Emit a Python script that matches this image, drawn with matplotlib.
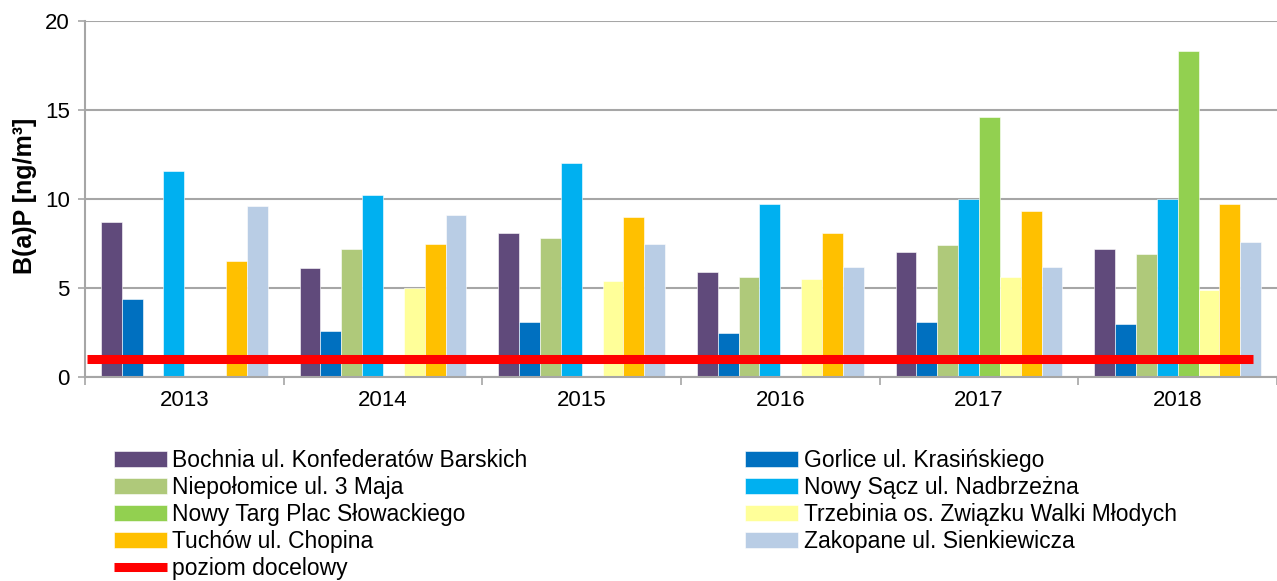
import numpy as np
import matplotlib
matplotlib.use("Agg")
import matplotlib.pyplot as plt

plt.rcParams['font.family'] = ['Liberation Sans', 'DejaVu Sans']

# dane
lata = ['2013', '2014', '2015', '2016', '2017', '2018']
stacje = ['Bochnia ul. Konfederatów Barskich', 'Gorlice ul. Krasińskiego',
          'Niepołomice ul. 3 Maja', 'Nowy Sącz ul. Nadbrzeżna',
          'Nowy Targ Plac Słowackiego', 'Trzebinia os. Związku Walki Młodych',
          'Tuchów ul. Chopina', 'Zakopane ul. Sienkiewicza']
bochnia = [8.7, 6.1, 8.1, 5.9, 7.0, 7.2]
gorlice = [4.4, 2.6, 3.1, 2.5, 3.1, 3.0]
niepolomice = [np.nan, 7.2, 7.8, 5.6, 7.4, 6.9]
nowy_sacz = [11.6, 10.2, 12.0, 9.7, 10.0, 10.0]
nowy_targ = [np.nan, np.nan, np.nan, np.nan, 14.6, 18.3]
trzebinia = [np.nan, 5.0, 5.4, 5.5, 5.6, 4.9]
tuchow = [6.5, 7.5, 9.0, 8.1, 9.3, 9.7]
zakopane = [9.6, 9.1, 7.5, 6.2, 6.2, 7.6]
poziom_docelowy = 1

serie = [bochnia, gorlice, niepolomice, nowy_sacz, nowy_targ, trzebinia, tuchow, zakopane]
kolory = ['#604A7B', '#0070C0', '#AFC97A', '#00B0F0', '#92D050', '#FFFF99', '#FFC000', '#B9CDE5']

fig = plt.figure(figsize=(12.77, 5.81), dpi=100)
ax = fig.add_axes([85 / 1277, 1 - 377 / 581, 1 - 85 / 1277, (377 - 21) / 581])

x = np.arange(len(lata))
szer = 0.105
uchwyty = []
for i, (s, k) in enumerate(zip(serie, kolory)):
    b = ax.bar(x + (i - 3.5) * szer, s, szer, color=k, label=stacje[i],
               edgecolor='white', linewidth=0.4, zorder=2)
    uchwyty.append(b)

linia, = ax.plot([-0.49, 5.38], [poziom_docelowy] * 2, color='#FF0000', lw=6.5,
                 solid_capstyle='butt', zorder=3, label='poziom docelowy')

ax.set_xlim(-0.5, 5.45)
ax.set_ylim(0, 20)
ax.set_yticks([0, 5, 10, 15, 20])
ax.set_xticks(x)
ax.set_xticklabels(lata)
ax.set_xticks(np.arange(-0.5, 5.6, 1), minor=True)
ax.tick_params(axis='x', which='major', length=0, labelsize=16, pad=9)
ax.tick_params(axis='x', which='minor', length=6, color='#A6A6A6', width=1.2)
ax.tick_params(axis='y', length=5, color='#A6A6A6', width=1.2, labelsize=16, pad=6)
ax.grid(axis='y', color='#A6A6A6', lw=1.5, zorder=0)
ax.set_axisbelow(True)
for sp in ['top', 'right']:
    ax.spines[sp].set_visible(False)
for sp in ['left', 'bottom']:
    ax.spines[sp].set_color('#A6A6A6')
    ax.spines[sp].set_linewidth(1.5)
ax.set_ylabel('B(a)P [ng/m³]', fontsize=18, fontweight='bold')
ax.yaxis.set_label_coords(-0.040, 0.51)

# legenda: wierszami jak w Excelu
kol1 = [uchwyty[0], uchwyty[2], uchwyty[4], uchwyty[6], linia]
kol2 = [uchwyty[1], uchwyty[3], uchwyty[5], uchwyty[7]]
h = kol1 + kol2
fig.legend(h, [u.get_label() for u in h], ncol=2, frameon=False, fontsize=16.5,
           loc='upper left', bbox_to_anchor=(114 / 1277, 1 - 449 / 581),
           borderpad=0, borderaxespad=0, handlelength=2.3, handletextpad=0.25,
           columnspacing=9.5, labelspacing=0.17)

fig.savefig('out.png', dpi=100)
